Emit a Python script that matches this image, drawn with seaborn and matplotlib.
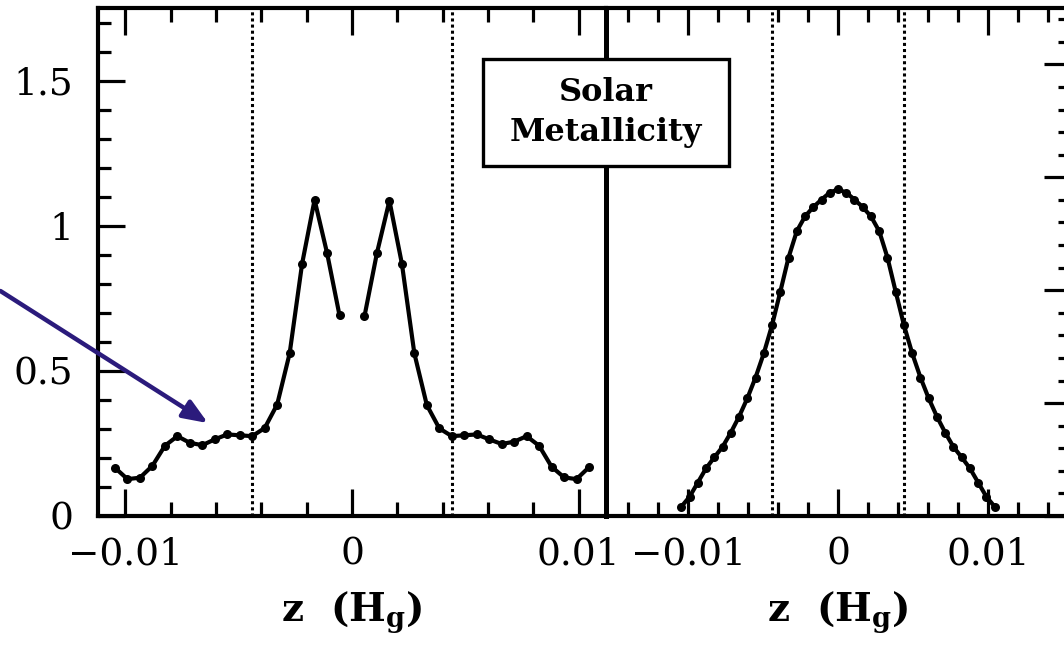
import numpy as np
import matplotlib
matplotlib.use("Agg")
import matplotlib.pyplot as plt
from matplotlib.ticker import MultipleLocator
from matplotlib.patches import Rectangle
import seaborn as sns

# ---------------- data ----------------
# grid points in z (H_g); the left panel has no value at z = 0
z_neg = [-0.01045, -0.0099, -0.00935, -0.0088, -0.00825, -0.0077, -0.00715,
         -0.0066, -0.00605, -0.0055, -0.00495, -0.0044, -0.00385, -0.0033,
         -0.00275, -0.0022, -0.00165, -0.0011, -0.00055]
z_pos = [0.00055, 0.0011, 0.00165, 0.0022, 0.00275, 0.0033, 0.00385, 0.0044,
         0.00495, 0.0055, 0.00605, 0.0066, 0.00715, 0.0077, 0.00825, 0.0088,
         0.00935, 0.0099, 0.01045]

# left panel (two peaks near the mid-plane)
left_neg = [0.166, 0.127, 0.132, 0.173, 0.242, 0.275, 0.252, 0.244, 0.264, 0.281,
            0.278, 0.275, 0.303, 0.384, 0.560, 0.869, 1.089, 0.906, 0.691]
left_pos = [0.688, 0.906, 1.086, 0.869, 0.560, 0.382, 0.302, 0.275, 0.278, 0.281,
            0.264, 0.248, 0.256, 0.275, 0.242, 0.170, 0.133, 0.127, 0.168]

# right panel (single smooth bump, solar metallicity)
right_z = z_neg + [0.0] + z_pos
right_val = [0.032, 0.066, 0.115, 0.164, 0.202, 0.238, 0.287, 0.342, 0.405, 0.477,
             0.560, 0.657, 0.772, 0.890, 0.981, 1.032, 1.064, 1.090, 1.114, 1.125,
             1.114, 1.090, 1.064, 1.032, 0.981, 0.890, 0.772, 0.657, 0.560, 0.477,
             0.405, 0.342, 0.287, 0.238, 0.202, 0.164, 0.115, 0.066, 0.032]

band_edges = [-0.0044, 0.0044]
xtick_vals = [-0.01, 0.0, 0.01]
xtick_labels = ["\u22120.01", "0", "0.01"]
ytick_vals = [0.0, 0.5, 1.0, 1.5]
ytick_labels = ["0", "0.5", "1", "1.5"]

# ---------------- style ----------------
sns.set_style("ticks")
plt.rcParams["font.family"] = ["DejaVu Serif"]
plt.rcParams["mathtext.fontset"] = "dejavuserif"
for k in ("text.color", "axes.labelcolor", "xtick.color", "ytick.color", "axes.edgecolor"):
    plt.rcParams[k] = "black"

W, H = 1064, 646
fig = plt.figure(figsize=(W / 100, H / 100), dpi=100)

def frac(x0, y0, x1, y1):
    # pixel box -> figure fraction [left, bottom, width, height]
    return [x0 / W, 1 - y1 / H, (x1 - x0) / W, (y1 - y0) / H]

ax1 = fig.add_axes(frac(98, 8, 606, 516))
ax2 = fig.add_axes(frac(606, 8, 1070, 516))
ax2.patch.set_alpha(0)

LW_SPINE = 3.0
TICK_W = 2.3

def style_axis(ax, xlim):
    ax.set_xlim(*xlim)
    ax.set_ylim(0, 1.75)
    for s in ax.spines.values():
        s.set_linewidth(LW_SPINE)
    ax.set_xticks(xtick_vals, xtick_labels)
    ax.xaxis.set_minor_locator(MultipleLocator(0.002))
    ax.tick_params(axis="x", which="both", direction="in", top=True, bottom=True,
                   width=TICK_W, labelsize=27, pad=15)
    ax.tick_params(axis="x", which="major", length=19.5)
    ax.tick_params(axis="x", which="minor", length=10)
    ax.set_xlabel("z  (H$_{\\mathbf{g}}$)", fontsize=28, fontweight="bold", labelpad=12)

style_axis(ax1, (-0.0112, 0.0112))
style_axis(ax2, (-0.01547, 0.01547))

# left panel y axis
ax1.set_yticks(ytick_vals, ytick_labels)
ax1.yaxis.set_minor_locator(MultipleLocator(0.1))
ax1.tick_params(axis="y", which="both", direction="in", left=True, right=False,
                width=TICK_W, labelsize=27, pad=18)
ax1.tick_params(axis="y", which="major", length=19.5)
ax1.tick_params(axis="y", which="minor", length=9.5)
ax1.spines["right"].set_linewidth(3.6)
ax1.spines["right"].set_zorder(5)

# right panel: no left ticks, separate scale on its right edge
ax2.set_yticks([])
ax2.spines["left"].set_visible(False)
ax3 = ax2.twinx()
ax3.patch.set_alpha(0)
ax3.set_ylim(0, 2.25)
ax3.yaxis.set_major_locator(MultipleLocator(0.5))
ax3.yaxis.set_minor_locator(MultipleLocator(0.1))
ax3.tick_params(axis="y", which="both", direction="in", right=True, labelright=False,
                width=TICK_W)
ax3.tick_params(axis="y", which="major", length=19)
ax3.tick_params(axis="y", which="minor", length=9)
for s in ax3.spines.values():
    s.set_visible(False)
ax3.spines["right"].set_visible(True)
ax3.spines["right"].set_linewidth(LW_SPINE)

# ---------------- data lines ----------------
line_kw = dict(color="black", linewidth=3.0, marker="o", markersize=6.5,
               markeredgewidth=0, sort=False)
sns.lineplot(x=z_neg, y=left_neg, ax=ax1, **line_kw)
sns.lineplot(x=z_pos, y=left_pos, ax=ax1, **line_kw)
sns.lineplot(x=right_z, y=right_val, ax=ax2, **line_kw)

for ax in (ax1, ax2):
    for e in band_edges:
        ax.axvline(e, color="black", linewidth=2.2, linestyle=(0, (1.0, 1.0)))

# ---------------- annotations ----------------
ax1.annotate("", xy=(-0.00635, 0.32), xytext=(-0.0155, 0.775),
             xycoords="data", textcoords="data", annotation_clip=False,
             arrowprops=dict(arrowstyle="-|>,head_length=1.5,head_width=0.6",
                             color="#2b1b7c", linewidth=3.2, shrinkA=0, shrinkB=0))

# label box straddling the panel divide
fig.add_artist(Rectangle((483 / W, 1 - 166 / H), 246 / W, 107 / H,
                         transform=fig.transFigure, facecolor="white",
                         edgecolor="black", linewidth=2.4, zorder=9))
fig.text(606 / W, 1 - 112.5 / H, "Solar\nMetallicity", ha="center", va="center",
         fontsize=23, fontweight="bold", linespacing=1.35, zorder=10)

fig.savefig("out.png", dpi=100)
